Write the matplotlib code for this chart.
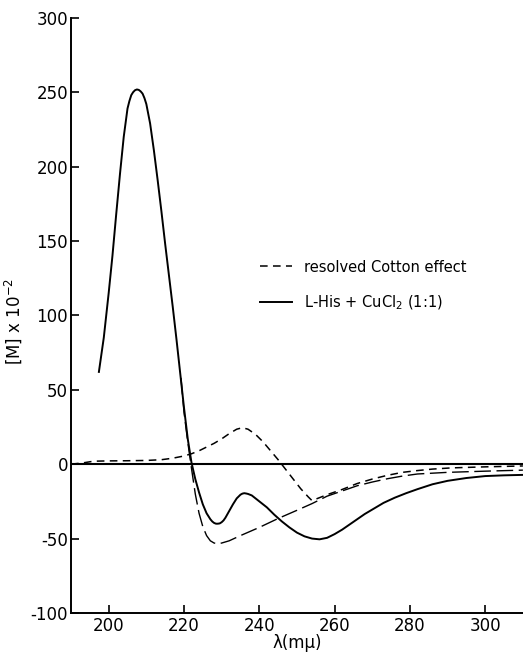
import matplotlib
matplotlib.use("Agg")
import matplotlib.pyplot as plt

# CD curves ([M] x 10^-2 vs wavelength in m-mu)

# L-His + CuCl2 (1:1), solid
wl_solid = [197.4, 198.7, 200, 201, 202, 203, 204, 205, 205.5, 206, 206.5, 207, 207.5, 208,
            208.5, 209, 209.5, 210, 211, 212, 213, 214, 215, 216, 217, 218, 219, 220, 221,
            222, 223, 224, 225, 226, 227, 227.5, 228, 228.5, 229, 229.5, 230, 230.5, 231,
            232, 233, 234, 235, 235.5, 236, 236.5, 237, 238, 240, 242, 244, 246, 248, 250,
            252, 254, 256, 258, 260, 262, 264, 266, 268, 270, 273, 276, 279, 282, 286,
            290, 295, 300, 305, 310]
m_solid = [62, 85, 115, 140, 168, 195, 220, 239, 244, 248, 250, 251.3, 251.8, 251.5,
           250.5, 249, 246, 242, 229, 211, 191, 170, 148, 127, 106, 84, 61, 38, 17,
           1, -10, -19, -27, -33, -37, -38.5, -39.5, -40, -40, -39.8, -39, -37.8, -36,
           -31.5, -27, -23, -20.5, -19.8, -19.5, -19.7, -20, -21, -25, -29, -34, -38.5, -42.5, -46,
           -48.5, -50, -50.5, -49.5, -47, -44, -40.5, -37, -33.5, -30.5, -26, -22.5, -19.5, -16.8, -13.5,
           -11.2, -9.3, -8, -7.5, -7.2]

# second (unlabelled) long-dash curve
wl_long = [219.2, 220, 221, 222, 223, 224, 225, 226, 227, 228, 229, 230, 232, 235,
           240, 245, 250, 254, 258, 262, 266, 270, 274, 278, 282, 290, 300, 310]
m_long = [58, 35, 15, -3, -20, -33, -42, -48, -51.5, -53, -53.5, -53, -51.5, -48,
          -42.5, -36.5, -31, -26.5, -21.5, -18, -14.5, -12, -9.8, -8, -6.6, -5.5, -4.7, -4]

# resolved Cotton effect, short dash
wl_cotton = [190, 193, 196, 200, 205, 210, 214, 217, 220, 222, 224, 226, 228, 230, 232,
             234, 235.5, 237, 239, 241, 243, 245, 247, 249, 251, 253, 254, 256, 258,
             262, 266, 270, 274, 278, 282, 286, 291, 300, 310]
m_cotton = [0, 0.8, 2, 2.2, 2.3, 2.5, 3, 4, 5.5, 7, 9, 11.5, 14, 17, 20.5,
            23.5, 24.5, 23.5, 20, 15, 9, 3, -3.5, -10, -16.5, -22, -24.5, -22.5, -20.5,
            -17, -13, -10, -7.5, -5.5, -4.3, -3.3, -2.5, -1.8, -1.2]

xticks = [200, 220, 240, 260, 280, 300]
yticks = [-100, -50, 0, 50, 100, 150, 200, 250, 300]

plt.rcParams['font.family'] = 'DejaVu Sans'
plt.rcParams['axes.unicode_minus'] = False

fig = plt.figure(figsize=(5.23, 6.57), dpi=100)
ax = fig.add_axes([0.1358, 0.067, 0.864, 0.906])

ax.axhline(0, color='black', lw=1.5)
ax.plot(wl_long, m_long, color='black', lw=1.0, dashes=(12, 4))
ax.plot(wl_cotton, m_cotton, color='black', lw=1.1, dashes=(5, 3.5),
        label='resolved Cotton effect')
ax.plot(wl_solid, m_solid, color='black', lw=1.4, label='L-His + CuCl$_2$ (1:1)')

ax.set_xlim(190, 310)
ax.set_ylim(-100, 300)
ax.set_xticks(xticks)
ax.set_yticks(yticks)
ax.tick_params(direction='in', length=6, width=1.2, labelsize=12, pad=3)
ax.tick_params(axis='y', pad=2)
for s in ['top', 'right']:
    ax.spines[s].set_visible(False)
for s in ['left', 'bottom']:
    ax.spines[s].set_linewidth(1.4)

ax.set_xlabel('λ(mμ)', fontsize=12)
ax.xaxis.set_label_coords(0.5, -0.035)
ax.set_ylabel('[M] x 10$^{-2}$', fontsize=12)
ax.yaxis.set_label_coords(-0.105, 0.49)

ax.legend(loc='upper left', bbox_to_anchor=(0.497, 0.605), bbox_transform=fig.transFigure,
          frameon=False, fontsize=10.5, handlelength=2.2, handletextpad=0.8,
          labelspacing=1.3, borderpad=0, borderaxespad=0)

plt.savefig('out.png', dpi=100)
